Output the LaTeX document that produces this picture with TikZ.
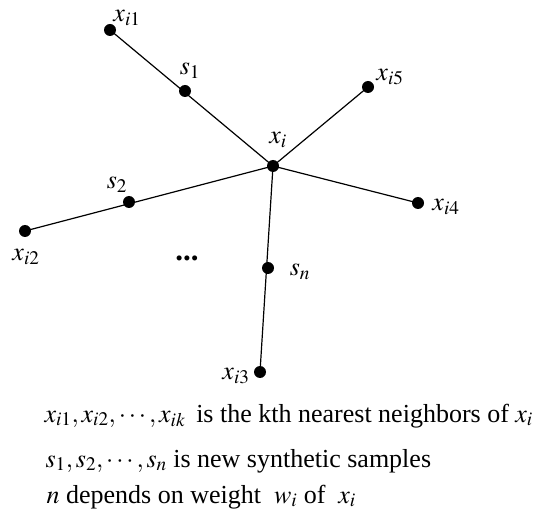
\documentclass[tikz,border=0pt]{standalone}
\usepackage{mathptmx}
\usepackage{fontspec}
\setmainfont{Liberation Serif}
\begin{document}
\begin{tikzpicture}[x=1pt,y=-1pt,line width=1.2pt,
  font=\fontsize{26}{30}\selectfont,
  pt/.style={fill=black},
  lbl/.style={inner sep=0pt},
  txt/.style={anchor=base west,inner sep=0pt}]
  \useasboundingbox (0,0) rectangle (536,513);

  % Points
  \coordinate (xi) at (273,166);
  \coordinate (xi1) at (110,30);
  \coordinate (s1) at (185,91);
  \coordinate (xi5) at (368,87);
  \coordinate (xi4) at (418,203);
  \coordinate (sn) at (268,268);
  \coordinate (xi3) at (260,372);
  \coordinate (s2) at (129,202);
  \coordinate (xi2) at (25,231);

  % Lines from x_i
  \draw (xi) -- (xi1);
  \draw (xi) -- (xi5);
  \draw (xi) -- (xi4);
  \draw (xi) -- (xi3);
  \draw (xi) -- (xi2);

  % Dots
  \foreach \p in {xi,xi1,s1,xi5,xi4,sn,xi3,s2,xi2}
    \fill[pt] (\p) circle (6);

  % Labels
  \node[lbl] (lxi) at (278,140) {$x_i$};
  \node[lbl] (lxi1) at (127,18) {$x_{i1}$};
  \node[lbl] (ls1) at (190,71) {$s_1$};
  \node[lbl] (lxi5) at (390,77) {$x_{i5}$};
  \node[lbl] (lxi4) at (446,207) {$x_{i4}$};
  \node[lbl] (lsn) at (300,272) {$s_n$};
  \node[lbl] (lxi3) at (236,376) {$x_{i3}$};
  \node[lbl] (ls2) at (117,185) {$s_2$};
  \node[lbl] (lxi2) at (26,257) {$x_{i2}$};
  \node[lbl,font=\fontsize{31}{31}\selectfont] (ldots) at (187,258) {\bfseries ...};

  % Legend
  \node[txt] (t1) at (44,422) {$x_{i1},x_{i2},\cdots,x_{ik}$ \,is the kth nearest neighbors of $x_i$};
  \node[txt] (t2) at (45,467) {$s_1,s_2,\cdots,s_n$ is new synthetic samples};
  \node[txt] (t3) at (46,503) {$n$ depends on weight\ \ $w_i$ of\ \ $x_i$};
\end{tikzpicture}
\end{document}
